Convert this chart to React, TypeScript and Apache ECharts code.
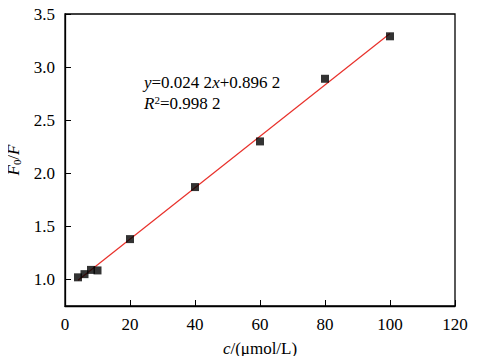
import React, { useEffect, useRef } from "react";
import * as echarts from "echarts";

const concX = [4, 6, 8, 10, 20, 40, 60, 80, 100];
const ratioY = [1.02, 1.05, 1.09, 1.085, 1.38, 1.87, 2.3, 2.89, 3.29];
const fitX = [4, 100];
const fitY = [0.993, 3.316];
const yTicks = [1.0, 1.5, 2.0, 2.5, 3.0, 3.5];
const FONT = "Liberation Serif";

export default function App() {
  const ref = useRef<HTMLDivElement>(null);
  useEffect(() => {
    if (!ref.current) return;
    const chart = echarts.init(ref.current, undefined, { renderer: "svg" });
    chart.setOption({
      animation: false,
      backgroundColor: "#fff",
      grid: {
        left: 65,
        top: 14,
        right: 43,
        bottom: 58,
        outerBoundsMode: "none",
        containLabel: false,
        show: true,
        borderColor: "#000",
        borderWidth: 1.3,
        backgroundColor: "transparent",
      },
      xAxis: {
        type: "value",
        min: 0,
        max: 120,
        interval: 20,
        name: "{i|c}{n|/(μmol/L)}",
        nameLocation: "middle",
        nameGap: 34,
        nameTextStyle: {
          fontFamily: FONT,
          fontSize: 17,
          color: "#000",
          rich: {
            i: { fontFamily: FONT, fontSize: 17, fontStyle: "italic" },
            n: { fontFamily: FONT, fontSize: 17 },
          },
        },
        axisLine: { lineStyle: { color: "#000", width: 1.3 } },
        axisTick: { inside: true, length: 6, lineStyle: { color: "#000" } },
        axisLabel: { fontFamily: FONT, fontSize: 17, color: "#000", margin: 10 },
        splitLine: { show: false },
      },
      yAxis: {
        type: "value",
        min: 0.75,
        max: 3.5,
        name: "{i|F}{s|0}{n|/}{i|F}",
        nameLocation: "middle",
        nameGap: 41,
        nameTextStyle: {
          fontFamily: FONT,
          fontSize: 17,
          color: "#000",
          rich: {
            i: { fontFamily: FONT, fontSize: 17, fontStyle: "italic" },
            n: { fontFamily: FONT, fontSize: 17 },
            s: { fontFamily: FONT, fontSize: 11, padding: [0, 0, -8, 0] },
          },
        },
        axisLine: { lineStyle: { color: "#000", width: 1.3 } },
        axisTick: { inside: true, length: 6, lineStyle: { color: "#000" }, customValues: yTicks },
        axisLabel: {
          fontFamily: FONT,
          fontSize: 17,
          color: "#000",
          margin: 10,
          customValues: yTicks,
          formatter: (v: number) => v.toFixed(1),
        },
        splitLine: { show: false },
      },
      graphic: [
        {
          type: "text",
          x: 144,
          y: 74,
          style: {
            text: "{i|y}{n|=0.024 2}{i|x}{n|+0.896 2}",
            fontFamily: FONT,
            fontSize: 17,
            fill: "#000",
            rich: {
              i: { fontFamily: FONT, fontSize: 17, fontStyle: "italic" },
              n: { fontFamily: FONT, fontSize: 17 },
            },
          },
        },
        {
          type: "text",
          x: 144,
          y: 94,
          style: {
            text: "{i|R}{s|2}{n|=0.998 2}",
            fontFamily: FONT,
            fontSize: 17,
            fill: "#000",
            rich: {
              i: { fontFamily: FONT, fontSize: 17, fontStyle: "italic" },
              n: { fontFamily: FONT, fontSize: 17 },
              s: { fontFamily: FONT, fontSize: 11, padding: [0, 0, 7, 0] },
            },
          },
        },
      ],
      series: [
        {
          type: "line",
          data: fitX.map((x, i) => [x, fitY[i]]),
          showSymbol: false,
          symbol: "none",
          lineStyle: { color: "#e8302a", width: 1.2 },
          z: 2,
        },
        {
          type: "scatter",
          data: concX.map((x, i) => [x, ratioY[i]]),
          symbol: "rect",
          symbolSize: 8,
          itemStyle: { color: "#000" },
          z: 3,
        },
      ],
    });
    return () => chart.dispose();
  }, []);
  return <div ref={ref} style={{ width: 498, height: 364, margin: -8 }} />;
}
